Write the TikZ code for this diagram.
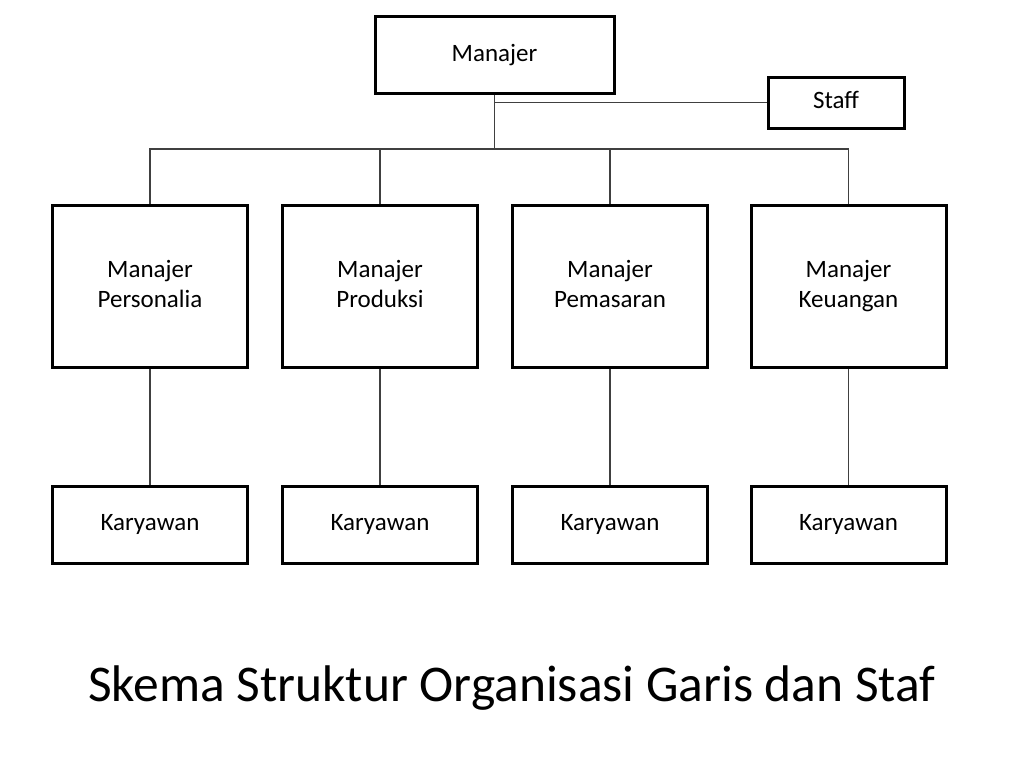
\documentclass[tikz,border=0pt]{standalone}
\usepackage{fontspec}
\setmainfont{Carlito}
\begin{document}
\begin{tikzpicture}[x=1pt,y=-1pt,
  box/.style={draw=black,line width=3pt,fill=white,align=center,font=\fontsize{25}{30}\selectfont,inner sep=0pt},
  link/.style={draw=black!75,line width=1.3pt}]
\useasboundingbox (0,0) rectangle (1024,768);
\node[box,minimum width=239pt,minimum height=76pt] (m) at (494.5,55) {\strut Manajer};
\node[box,minimum width=136pt,minimum height=51pt] (s) at (836,102.5) {\strut Staff};
\foreach \n/\x/\t in {p1/150/{Manajer\strut\\Personalia\strut},p2/380/{Manajer\strut\\Produksi\strut},p3/610/{Manajer\strut\\Pemasaran\strut},p4/848.5/{Manajer\strut\\Keuangan\strut}}{
  \node[box,minimum width=195pt,minimum height=162pt] (\n) at (\x,286) {\t};
}
\foreach \n/\x in {k1/150,k2/380,k3/610,k4/848.5}{
  \node[box,minimum width=195pt,minimum height=77pt] (\n) at (\x,524.5) {\strut Karyawan};
}
\coordinate (j) at (494.5,149);
\draw[link] (m.south) -- (j);
\draw[link] (s.west) -- (m.south |- s.west);
\foreach \n in {p1,p2,p3,p4}{\draw[link] (j) -| (\n.north);}
\foreach \a/\b in {p1/k1,p2/k2,p3/k3,p4/k4}{\draw[link] (\a.south) -- (\b.north);}
\node[font=\fontsize{51.5}{60}\selectfont,inner sep=0pt] (title) at (512,688) {Skema Struktur Organisasi Garis dan Staf};
\end{tikzpicture}
\end{document}
